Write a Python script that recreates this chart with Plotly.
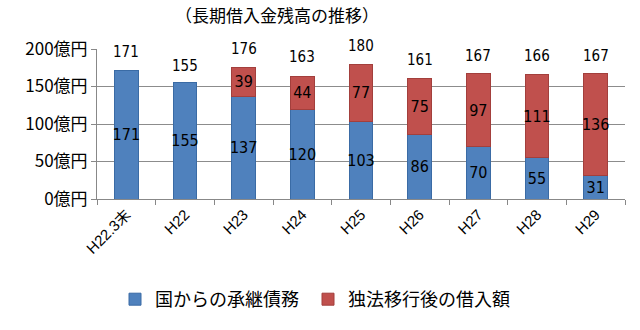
import plotly.graph_objects as go

# 長期借入金残高（億円）
categories = ["H22.3末", "H22", "H23", "H24", "H25", "H26", "H27", "H28", "H29"]
succeeded_from_state = [171, 155, 137, 120, 103, 86, 70, 55, 31]   # 国からの承継債務
borrowed_after = [None, None, 39, 44, 77, 75, 97, 111, 136]        # 独法移行後の借入額
totals = [171, 155, 176, 163, 180, 161, 167, 166, 167]

# heights (axis units) where the total labels are printed
total_label_y = [210, 192, 215, 204, 219, 200, 205, 205, 205]

Y_MAX = 200
BLUE = "#4F81BD"
RED = "#C0504D"
NUM_FONT = "Liberation Sans Narrow, DejaVu Sans Condensed, Liberation Sans, sans-serif"
JP_FONT = "Noto Sans CJK JP, sans-serif"

fig = go.Figure()
fig.add_trace(go.Bar(
    x=categories, y=succeeded_from_state, name="国からの承継債務", legend="legend",
    showlegend=True,
    marker=dict(color=BLUE, line=dict(color="#3A6BA5", width=1)),
    text=succeeded_from_state, textposition="inside", insidetextanchor="middle",
    textfont=dict(color="black", size=16, family=NUM_FONT), textangle=0,
))
fig.add_trace(go.Bar(
    x=categories, y=borrowed_after, name="独法移行後の借入額", legend="legend2",
    showlegend=True,
    marker=dict(color=RED, line=dict(color="#A33F3C", width=1)),
    text=[v if v is not None else "" for v in borrowed_after],
    textposition="inside", insidetextanchor="middle",
    textfont=dict(color="black", size=16, family=NUM_FONT), textangle=0,
))

annotations = [dict(
    text="（長期借入金残高の推移）", xref="paper", yref="paper",
    x=(277 - 97) / 528, y=1.0, yanchor="middle", yshift=35, showarrow=False,
    font=dict(size=17, family=JP_FONT),
)]
# totals printed above each stack; the y axis spans 0..Y_MAX, so a value maps
# to paper height value / Y_MAX (paper refs are not clipped at the axis top)
for cat, tot, ly in zip(categories, totals, total_label_y):
    annotations.append(dict(
        x=cat, y=ly / Y_MAX, xref="x", yref="paper", text=str(tot), showarrow=False,
        font=dict(size=15, family=NUM_FONT, color="black"),
    ))

legend_style = dict(
    orientation="h", xanchor="left", y=-0.67, yanchor="middle",
    font=dict(size=18, family=JP_FONT), itemwidth=30, bgcolor="rgba(0,0,0,0)",
)

fig.update_layout(
    width=640, height=330,
    margin=dict(l=97, r=15, t=49, b=128),
    barmode="stack", bargap=0.6, showlegend=True,
    plot_bgcolor="white", paper_bgcolor="white",
    font=dict(family=JP_FONT, color="black"),
    uniformtext=dict(minsize=16, mode="show"),
    legend=dict(x=(115 - 97) / 528, **legend_style),
    legend2=dict(x=(308 - 97) / 528, **legend_style),
    annotations=annotations,
)
fig.update_xaxes(
    type="category", showline=True, linecolor="#888888", linewidth=1,
    ticks="outside", tickson="boundaries", tickcolor="#888888", ticklen=5,
    tickangle=-45, tickfont=dict(size=15, family="Liberation Sans, Noto Sans CJK JP"),
)
fig.update_yaxes(
    range=[0, Y_MAX], tickvals=[0, 50, 100, 150, 200],
    ticktext=["0億円", "50億円", "100億円", "150億円", "200億円"],
    showgrid=True, gridcolor="#8C8C8C", gridwidth=1,
    showline=True, linecolor="#888888", linewidth=1,
    ticks="outside", tickcolor="#888888", ticklen=5,
    tickfont=dict(size=17, family=JP_FONT), zeroline=False,
)

fig.write_html("out.html")
